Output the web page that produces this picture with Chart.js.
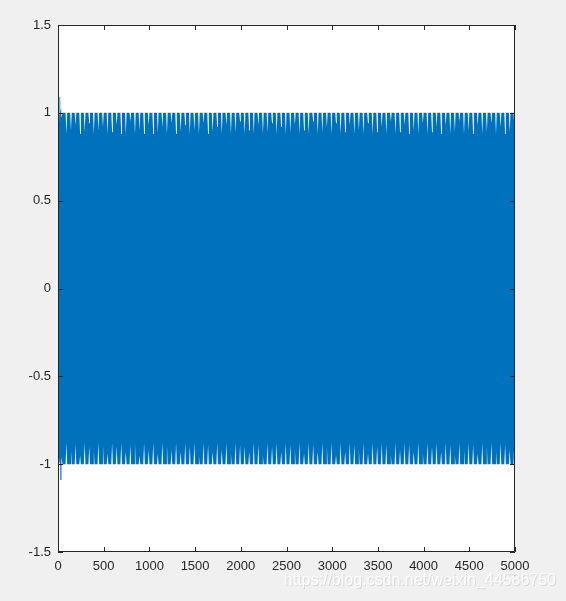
<!DOCTYPE html>
<html>
<head>
<meta charset="utf-8">
<script src="https://cdn.jsdelivr.net/npm/chart.js@4.4.1/dist/chart.umd.min.js"></script>
<style>
  html, body { margin: 0; padding: 0; background: #f0f0f0; }
  #chart { display: block; }
</style>
</head>
<body>
<canvas id="chart" width="566" height="601"></canvas>
<script>
// start of the signal (first few samples)
const onsetT  = [0, 14, 16, 24, 26, 34, 36, 40];
const onsetHi = [0.77, 0.99, 1.09, 1.09, 1.00, 1.03, 0.98, 0.97];
const onsetLo = [-0.90, -0.98, -0.99, -1.00, -1.09, -1.09, -0.98, -0.96];

// one ripple every 50 samples
const cycleT = [
  50, 100, 150, 200, 250, 300, 350, 400, 450, 500,
  550, 600, 650, 700, 750, 800, 850, 900, 950, 1000,
  1050, 1100, 1150, 1200, 1250, 1300, 1350, 1400, 1450, 1500,
  1550, 1600, 1650, 1700, 1750, 1800, 1850, 1900, 1950, 2000,
  2050, 2100, 2150, 2200, 2250, 2300, 2350, 2400, 2450, 2500,
  2550, 2600, 2650, 2700, 2750, 2800, 2850, 2900, 2950, 3000,
  3050, 3100, 3150, 3200, 3250, 3300, 3350, 3400, 3450, 3500,
  3550, 3600, 3650, 3700, 3750, 3800, 3850, 3900, 3950, 4000,
  4050, 4100, 4150, 4200, 4250, 4300, 4350, 4400, 4450, 4500,
  4550, 4600, 4650, 4700, 4750, 4800, 4850, 4900, 4950
];
const peakHi = 1.0;
const peakLo = -1.0;
const hiDip = [
  0.88, 0.90, 0.93, 0.88, 0.89, 0.94, 0.88, 0.90, 0.92, 0.88,
  0.89, 0.93, 0.88, 0.88, 0.95, 0.88, 0.90, 0.88, 0.93, 0.88,
  0.89, 0.92, 0.88, 0.94, 0.88, 0.89, 0.93, 0.88, 0.90, 0.88,
  0.94, 0.88, 0.89, 0.92, 0.88, 0.93, 0.88, 0.89, 0.95, 0.88,
  0.90, 0.88, 0.93, 0.88, 0.89, 0.94, 0.88, 0.92, 0.88, 0.89,
  0.93, 0.88, 0.90, 0.88, 0.95, 0.88, 0.89, 0.92, 0.88, 0.94,
  0.88, 0.89, 0.93, 0.88, 0.90, 0.88, 0.94, 0.88, 0.89, 0.92,
  0.88, 0.95, 0.88, 0.89, 0.93, 0.88, 0.90, 0.88, 0.94, 0.88,
  0.89, 0.92, 0.88, 0.93, 0.88, 0.89, 0.95, 0.88, 0.90, 0.88,
  0.93, 0.88, 0.89, 0.94, 0.88, 0.92, 0.88, 0.89, 0.93
];
const loDip = [
  -0.88, -0.92, -0.89, -0.95, -0.88, -0.90, -0.93, -0.88, -0.89, -0.94,
  -0.88, -0.90, -0.88, -0.93, -0.89, -0.88, -0.95, -0.88, -0.92, -0.88,
  -0.94, -0.88, -0.89, -0.92, -0.88, -0.93, -0.88, -0.90, -0.88, -0.95,
  -0.88, -0.89, -0.93, -0.88, -0.92, -0.88, -0.94, -0.88, -0.89, -0.90,
  -0.93, -0.88, -0.89, -0.95, -0.88, -0.90, -0.88, -0.93, -0.88, -0.89,
  -0.92, -0.88, -0.94, -0.88, -0.89, -0.93, -0.88, -0.90, -0.88, -0.95,
  -0.88, -0.93, -0.88, -0.89, -0.92, -0.88, -0.94, -0.88, -0.90, -0.88,
  -0.89, -0.95, -0.88, -0.92, -0.88, -0.89, -0.93, -0.88, -0.94, -0.88,
  -0.90, -0.88, -0.93, -0.88, -0.89, -0.95, -0.88, -0.92, -0.88, -0.89,
  -0.94, -0.88, -0.90, -0.88, -0.93, -0.88, -0.89, -0.92, -0.88
];
const endT = 5000;
const endHi = 0.98;
const endLo = -0.70;

const xTicks = [0, 500, 1000, 1500, 2000, 2500, 3000, 3500, 4000, 4500, 5000];
const yTicks = [-1.5, -1, -0.5, 0, 0.5, 1, 1.5];

const blue = 'rgb(0,114,189)';
const axisColor = '#262626';
// shape of the notch inside each ripple (in samples)
const notchOpen = 33;
const notchTip = 42;

function envelope(first, peak, dips, last) {
  const pts = onsetT.map((x, i) => ({ x: x, y: first[i] }));
  cycleT.forEach((x, i) => {
    pts.push({ x: x, y: peak });
    pts.push({ x: x + notchOpen, y: peak });
    pts.push({ x: x + notchTip, y: dips[i] });
  });
  pts.push({ x: endT, y: last });
  return pts;
}

const matlabAxes = {
  id: 'matlabAxes',
  beforeDraw(chart) {
    const a = chart.chartArea, ctx = chart.ctx;
    ctx.save();
    ctx.fillStyle = '#ffffff';
    ctx.fillRect(a.left, a.top, a.right - a.left, a.bottom - a.top);
    ctx.restore();
  },
  afterDraw(chart) {
    const a = chart.chartArea, ctx = chart.ctx;
    const xs = chart.scales.x, ys = chart.scales.y;
    ctx.save();
    ctx.strokeStyle = axisColor;
    ctx.lineWidth = 1;
    ctx.beginPath();
    ctx.rect(a.left + 0.5, a.top + 0.5, a.right - a.left - 1, a.bottom - a.top - 1);
    const len = 5;
    xTicks.forEach(v => {
      const px = Math.round(xs.getPixelForValue(v)) + 0.5;
      ctx.moveTo(px, a.bottom); ctx.lineTo(px, a.bottom - len);
      ctx.moveTo(px, a.top); ctx.lineTo(px, a.top + len);
    });
    yTicks.forEach(v => {
      const py = Math.round(ys.getPixelForValue(v)) + 0.5;
      ctx.moveTo(a.left, py); ctx.lineTo(a.left + len, py);
      ctx.moveTo(a.right, py); ctx.lineTo(a.right - len, py);
    });
    ctx.stroke();

    // watermark
    ctx.font = '16px "Liberation Sans", Arial, sans-serif';
    ctx.textAlign = 'right';
    ctx.textBaseline = 'middle';
    ctx.fillStyle = 'rgba(200,200,200,0.6)';
    ctx.fillText('https://blog.csdn.net/weixin_44586750', 557, 582);
    ctx.fillStyle = 'rgba(255,255,255,0.9)';
    ctx.fillText('https://blog.csdn.net/weixin_44586750', 556, 581);
    ctx.restore();
  }
};

new Chart(document.getElementById('chart'), {
  type: 'line',
  data: {
    datasets: [
      {
        data: envelope(onsetHi, peakHi, hiDip, endHi),
        borderColor: blue,
        backgroundColor: blue,
        borderWidth: 0,
        fill: { value: -0.5 },
        pointRadius: 0
      },
      {
        data: envelope(onsetLo, peakLo, loDip, endLo),
        borderColor: blue,
        backgroundColor: blue,
        borderWidth: 0,
        fill: { value: 0.5 },
        pointRadius: 0
      }
    ]
  },
  options: {
    responsive: false,
    animation: false,
    devicePixelRatio: 1,
    layout: { padding: { left: 0, right: 51, top: 25, bottom: 0 } },
    plugins: {
      legend: { display: false },
      tooltip: { enabled: false }
    },
    scales: {
      x: {
        type: 'linear',
        min: 0,
        max: 5000,
        grid: { display: false, drawTicks: false },
        border: { display: false },
        afterBuildTicks: s => { s.ticks = xTicks.map(v => ({ value: v })); },
        afterFit: s => { s.height = 49; },
        ticks: {
          padding: 7,
          maxRotation: 0,
          autoSkip: false,
          color: axisColor,
          font: { family: '"Liberation Sans", Arial, sans-serif', size: 13 },
          callback: v => String(v)
        }
      },
      y: {
        min: -1.5,
        max: 1.5,
        grid: { display: false, drawTicks: false },
        border: { display: false },
        afterBuildTicks: s => { s.ticks = yTicks.map(v => ({ value: v })); },
        afterFit: s => { s.width = 58; },
        ticks: {
          padding: 7,
          color: axisColor,
          font: { family: '"Liberation Sans", Arial, sans-serif', size: 13 },
          callback: v => String(v)
        }
      }
    }
  },
  plugins: [matlabAxes]
});
</script>
</body>
</html>
